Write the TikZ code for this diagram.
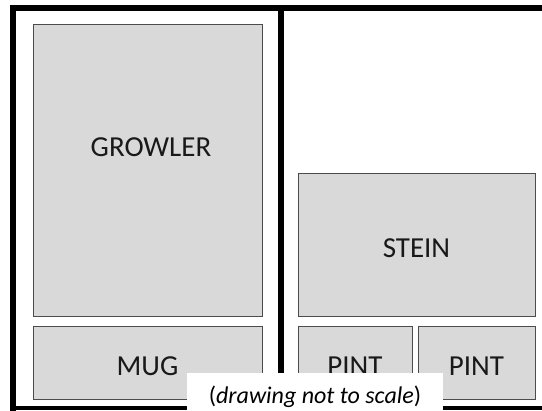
\documentclass[tikz,border=0pt]{standalone}
\usepackage{fontspec}
\setmainfont{Carlito}
\begin{document}
\begin{tikzpicture}[x=1pt,y=-1pt,
  frame/.style={line width=6pt,black},
  shelf/.style={draw=black!70,line width=0.9pt,fill=black!15,inner sep=0pt,
    text=black!90,font=\fontsize{29}{31}\selectfont,
    text height=27pt,text depth=0pt},
  lbl/.style={inner sep=0pt,text=black!90,font=\fontsize{29}{31}\selectfont,
    text height=18.5pt,text depth=0pt},
  note/.style={fill=white,inner sep=0pt,font=\fontsize{24}{26}\selectfont}]
\useasboundingbox (0,0) rectangle (542,411);
% outer frame and centre divider
\draw[frame] (13,411) -- (13,8) -- (542,8);
\draw[line width=4pt] (10,408.5) -- (542,408.5);
\draw[frame] (281,8) -- (281,400);
% shelves
\node[shelf,minimum width=229pt,minimum height=292pt] (growler) at (147.5,170) {};
\node[lbl] (growlertext) at (151,147.5) {GROWLER};
\node[shelf,minimum width=229pt,minimum height=73pt] (mug) at (147.5,362.5) {MUG};
\node[shelf,minimum width=237pt,minimum height=143pt] (stein) at (416.5,244.5) {STEIN};
\node[shelf,minimum width=114pt,minimum height=73pt] (pint1) at (355,362.5) {PINT};
\node[shelf,minimum width=117pt,minimum height=73pt] (pint2) at (476.5,362.5) {PINT};
% caption
\node[note,minimum width=256pt,minimum height=48pt] (caption) at (315,397)
  {(\textit{drawing not to scale})};
\end{tikzpicture}
\end{document}
